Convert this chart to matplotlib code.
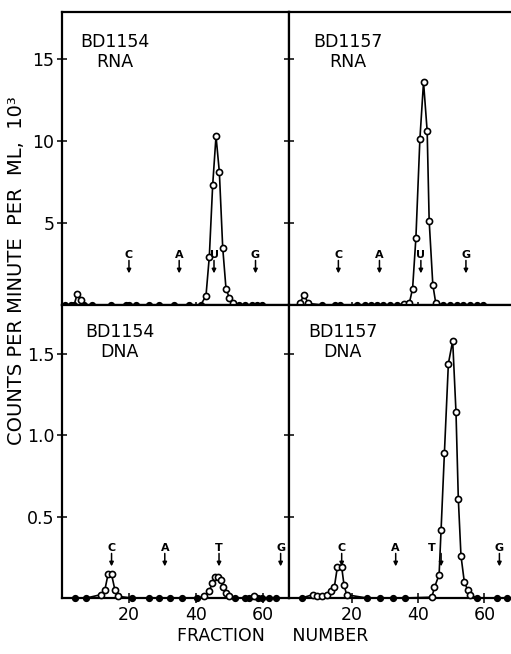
import matplotlib
matplotlib.use("Agg")
import matplotlib.pyplot as plt
import numpy as np

# fraction number / counts per minute per ml (x10^3)
tl_frac = [1, 2.6, 3.6, 4.6, 5.6, 6.6, 9, 14.5, 19, 20, 22, 26, 29, 33.4, 37.9, 41.4,
           43, 44, 45, 46, 47, 48, 49, 50, 51, 52.8, 54.8, 56.8, 58.3, 59.7]
tl_cpm = [0, 0, 0, 0.7, 0.3, 0, 0, 0, 0, 0, 0, 0, 0, 0, 0, 0,
          0.55, 2.95, 7.3, 10.3, 8.1, 3.5, 0.95, 0.45, 0.1, 0, 0, 0, 0, 0]

tr_frac = [4.3, 5.6, 6.8, 10.9, 14.9, 16.4, 21.4, 24, 25.7, 27.5, 29.5, 31.5, 33.5, 35.7,
           37.3, 38.3, 39.3, 40.5, 41.6, 42.7, 43.3, 44.4, 45.3,
           47.6, 49.6, 51.6, 53.6, 55.6, 57.6, 59.7]
tr_cpm = [0.15, 0.6, 0.1, 0, 0, 0, 0, 0, 0, 0, 0, 0, 0, 0.05,
          0.1, 1.0, 4.1, 10.1, 13.6, 10.6, 5.15, 1.25, 0.1,
          0, 0, 0, 0, 0, 0, 0]

bl_frac = [3.9, 7.3, 11.5, 12.8, 13.8, 14.8, 15.8, 16.8, 20.9, 26, 29, 32.4, 35.9, 40.4,
           42.4, 43.9, 44.9, 45.7, 46.6, 47.4, 48.1, 48.9, 50, 51.8,
           54.8, 55.8, 57.3, 58.6, 59.7, 61.8, 63.8]
bl_cpm = [0, 0, 0.02, 0.05, 0.15, 0.145, 0.05, 0.01, 0, 0, 0, 0, 0, 0,
          0.01, 0.04, 0.09, 0.13, 0.13, 0.11, 0.07, 0.03, 0.01, 0,
          0, 0, 0.01, 0, 0, 0, 0]

br_frac = [4.8, 8.1, 9.4, 10.9, 12.6, 13.7, 14.7, 15.6, 16.9, 17.6, 18.4, 24.5, 28.5, 32.5, 36,
           44.1, 44.9, 46.3, 46.9, 47.9, 49.1, 50.4, 51.4, 52.1, 52.9, 53.9, 54.9, 55.7,
           57.7, 63.7, 66.8]
br_cpm = [0, 0.02, 0.01, 0.01, 0.02, 0.04, 0.07, 0.19, 0.19, 0.08, 0.02, 0, 0, 0, 0,
          0.005, 0.065, 0.143, 0.42, 0.89, 1.44, 1.58, 1.14, 0.61, 0.26, 0.1, 0.05, 0.02,
          0, 0, 0]

# nucleotide markers (letter, arrow position, letter position)
tl_marks = ["C", "A", "U", "G"]
tl_arrow_x = [20, 35, 45.4, 57.8]
tl_text_x = [20, 35, 45.4, 57.8]
tr_marks = ["C", "A", "U", "G"]
tr_arrow_x = [15.9, 28.3, 40.8, 54.4]
tr_text_x = [15.9, 28.3, 40.8, 54.4]
bl_marks = ["C", "A", "T", "G"]
bl_arrow_x = [14.8, 30.7, 46.9, 65.3]
bl_text_x = [14.8, 30.7, 46.9, 65.3]
br_marks = ["C", "A", "T", "G"]
br_arrow_x = [16.9, 33.2, 46.9, 64.5]
br_text_x = [16.9, 33.2, 44.1, 64.5]

panel_names = ["BD1154\nRNA", "BD1157\nRNA", "BD1154\nDNA", "BD1157\nDNA"]
rna_ticks = [5, 10, 15]
dna_ticks = [0.5, 1.0, 1.5]
x_ticks = [20, 40, 60]

W, H = 511, 654
fig = plt.figure(figsize=(W / 100, H / 100), dpi=100)


def box(l, t, r, b):
    return [l / W, 1 - b / H, (r - l) / W, (b - t) / H]


ax_tl = fig.add_axes(box(62, 12, 289, 305))
ax_tr = fig.add_axes(box(289, 12, 511, 305))
ax_bl = fig.add_axes(box(62, 305, 289, 598))
ax_br = fig.add_axes(box(289, 305, 511, 598))


def draw_panel(ax, frac, cpm, marks, arrow_x, text_x, ymax, name, name_xy, left, bottom):
    f = np.array(frac)
    c = np.array(cpm)
    ax.plot(f, c, color="k", lw=1.2, zorder=3, clip_on=False)
    base = c == 0
    ax.plot(f[base], c[base], "o", ms=4.2, mfc="k", mec="k", zorder=4, clip_on=False)
    ax.plot(f[~base], c[~base], "o", ms=4.4, mfc="white", mec="k", mew=1.2,
            zorder=4, clip_on=False)

    ax.set_ylim(0, ymax)
    # marker letters with small down arrows
    for m, xa, xt in zip(marks, arrow_x, text_x):
        ax.text(xt, ymax * 0.171, m, ha="center", va="center", fontsize=8,
                fontweight="bold", zorder=5)
        ax.annotate("", xy=(xa, ymax * 0.108), xytext=(xa, ymax * 0.152),
                    arrowprops=dict(arrowstyle="-|>", color="k", lw=1.1,
                                    mutation_scale=6, shrinkA=0, shrinkB=0),
                    zorder=5)

    ax.text(name_xy[0], ymax * name_xy[1], name, ha="center", va="center",
            fontsize=12.5, linespacing=1.15)

    for s in ax.spines.values():
        s.set_linewidth(1.6)
    if not left:
        ax.spines["right"].set_visible(False)
    ax.tick_params(axis="both", direction="inout", length=7, width=1.1,
                   labelsize=12.5, pad=2)
    ax.tick_params(axis="y", right=False)
    ax.tick_params(axis="x", top=False)
    ax.set_xticks(x_ticks)
    if not bottom:
        ax.tick_params(axis="x", length=4, labelbottom=False)
    if not left:
        ax.tick_params(axis="y", labelleft=False)


draw_panel(ax_tl, tl_frac, tl_cpm, tl_marks, tl_arrow_x, tl_text_x, 17.87,
           panel_names[0], (15.8, 0.865), True, False)
draw_panel(ax_tr, tr_frac, tr_cpm, tr_marks, tr_arrow_x, tr_text_x, 17.87,
           panel_names[1], (18.8, 0.865), False, False)
draw_panel(ax_bl, bl_frac, bl_cpm, bl_marks, bl_arrow_x, bl_text_x, 1.80,
           panel_names[2], (17.3, 0.873), True, True)
draw_panel(ax_br, br_frac, br_cpm, br_marks, br_arrow_x, br_text_x, 1.80,
           panel_names[3], (17.2, 0.873), False, True)

for ax in (ax_tl, ax_tr):
    ax.set_yticks(rna_ticks)
    ax.set_yticklabels([str(t) for t in rna_ticks])
for ax in (ax_bl, ax_br):
    ax.set_yticks(dna_ticks)
    ax.set_yticklabels(["0.5", "1.0", "1.5"])

ax_tl.set_xlim(0, 67.8)
ax_bl.set_xlim(0, 67.8)
ax_tr.set_xlim(1, 68)
ax_br.set_xlim(1, 68)

fig.text(17 / W, 1 - 271 / H, "COUNTS PER MINUTE  PER  ML,  10³",
         rotation=90, ha="center", va="center", fontsize=14)
fig.text(273 / W, 1 - 636 / H, "FRACTION     NUMBER", ha="center", va="center",
         fontsize=12.5)

fig.savefig("out.png", dpi=100, facecolor="white")
